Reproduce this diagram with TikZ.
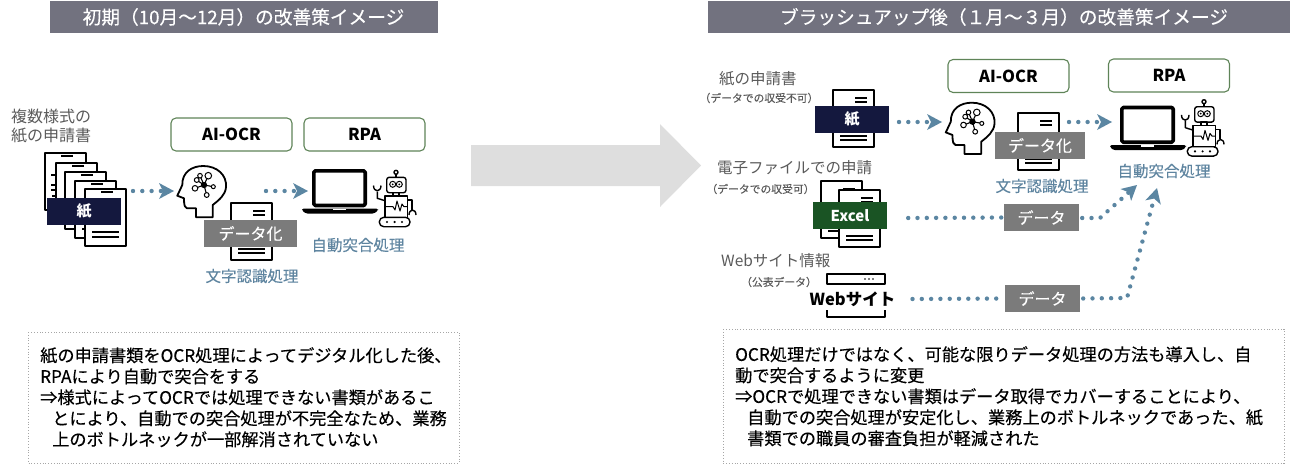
\documentclass[tikz,border=0pt]{standalone}
\usepackage{fontspec}
\setmainfont{Noto Sans CJK JP}
\newfontfamily\jpm[FakeBold=0.25]{Noto Sans CJK JP}
\usetikzlibrary{arrows.meta}
\definecolor{hdr}{HTML}{72727F}
\definecolor{bigarr}{HTML}{DEDEDE}
\definecolor{bluet}{HTML}{5F85A0}
\definecolor{dotc}{HTML}{5B86A2}
\definecolor{greenb}{HTML}{5F8458}
\definecolor{navyb}{HTML}{14183E}
\definecolor{excelg}{HTML}{1A5424}
\definecolor{bandg}{HTML}{7B7B7B}
\definecolor{lab}{HTML}{5A5A5A}
\tikzset{
  header/.style={fill=hdr,draw=none,text=white,font=\jpm\fontsize{18.7}{20}\selectfont,inner sep=0pt,anchor=center},
  toolbox/.style={draw=greenb,line width=1.1pt,rounded corners=5pt,fill=white,minimum width=121pt,minimum height=33pt,inner sep=0pt,font=\bfseries\fontsize{16.5}{18}\selectfont,text=black},
  band/.style={fill=bandg,text=white,inner sep=0pt,minimum width=90pt,minimum height=27pt,font=\jpm\fontsize{16}{18}\selectfont},
  paper/.style={fill=navyb,text=white,inner sep=0pt,minimum width=74pt,minimum height=27pt,font=\bfseries\fontsize{15}{16}\selectfont},
  graylab/.style={text=lab,inner sep=0pt,font=\fontsize{15.5}{20}\selectfont},
  smalllab/.style={text=lab,inner sep=0pt,font=\jpm\fontsize{10.8}{12}\selectfont},
  bluelab/.style={text=bluet,inner sep=0pt,font=\jpm\fontsize{15.5}{18}\selectfont},
  notebox/.style={draw=gray!70,dotted,line width=.8pt,fill=none},
  notetext/.style={text=black,inner sep=0pt,anchor=north west,align=left,font=\jpm\fontsize{17.2}{21}\selectfont},
  dotline/.style={draw=dotc,line width=4.4pt,line cap=round,dash pattern=on 0pt off 9.3pt},
  dothead/.style={-{Stealth[length=15pt,width=16pt,inset=4pt,fill=dotc,line width=0pt]}},
  ink/.style={draw=black,line width=1.6pt,line join=round},
  docicon/.pic={
    \draw[ink,fill=white] (0,0) rectangle (41,57);
    \draw[draw=black,line width=1.3pt] (22,8) -- (34,8) (22,12) -- (34,12) (7,46) -- (34,46) (7,50) -- (34,50);
  },
  stackdoc/.pic={
    \draw[ink,fill=white] (0,0) rectangle (41,57);
    \draw[draw=black,line width=1.3pt] (16,3) -- (28,3) (7,43) -- (34,43) (7,48) -- (34,48);
  },
  headicon/.pic={
    \draw[ink,line width=1.8pt,fill=white] (5.3,23) .. controls (5,10) and (15,4) .. (26.3,4) .. controls (40,4) and (50,13) .. (49,25) .. controls (48.5,33) and (42,38) .. (35.7,43) -- (35.7,55.3) -- (19,55.3) -- (19,46.3) -- (10,46.3) .. controls (8,46) and (7,44) .. (7,36.3) -- (0.3,33.7) -- cycle;
    \draw[draw=black,line width=1.1pt] (27,23) -- (31.3,13.7) (27,23) -- (19.7,18) (27,23) -- (18,26.3) (27,23) -- (29.7,33) (27,23) -- (36.3,24.7) (27,23) -- (23,13.7);
    \fill[black] (27,23) circle (3.2pt);
    \draw[draw=black,line width=1pt,fill=white] (31.3,13.7) circle (3.3pt) (19.7,18) circle (2.4pt) (18,26.3) circle (2.8pt) (29.7,33) circle (2.4pt) (36.3,24.7) circle (2pt) (23,13.7) circle (2.3pt);
  },
  laptopicon/.pic={
    \draw[ink,line width=3.6pt,rounded corners=1.5pt,fill=white] (11.8,1.8) rectangle (63.2,36.5);
    \fill[black,rounded corners=1.5pt] (0,39.5) -- (76,39.5) -- (76,41.5) -- (72,44.5) -- (4,44.5) -- (0,41.5) -- cycle;
    \fill[white] (31,39.5) rectangle (44,41);
  },
  roboticon/.pic={
    \draw[ink,line width=1.4pt,fill=white] (18,2.3) circle (2pt);
    \draw[ink,line width=1.4pt] (18,4.3) -- (18,7.3);
    \draw[ink,line width=1.4pt,fill=white,rounded corners=2.5pt] (8.7,7.3) rectangle (28,22.7);
    \draw[ink,line width=1pt] (14.7,14.3) circle (3pt) (21.3,14.3) circle (3pt);
    \fill[black] (14.7,14.3) circle (1pt) (21.3,14.3) circle (1pt);
    \draw[ink,line width=1.4pt] (15,22.7) rectangle (21,26);
    \draw[ink,line width=1.4pt] (7,26) rectangle (29.3,47.3);
    \draw[ink,line width=1pt] (7,36.7) -- (15,36.7) -- (17,40) -- (19,31) -- (22,41) -- (24,34) -- (26,36.7) -- (29.3,36.7);
    \draw[ink,line width=1.4pt,fill=white,rounded corners=4.5pt] (1.3,47.3) rectangle (32,56.7);
    \fill[black] (9,52) circle (1.2pt) (16.6,52) circle (1.2pt) (24,52) circle (1.2pt);
    \draw[ink,line width=1.4pt] (7,30.7) -- (-0.7,28.3) -- (-0.7,21.7);
    \draw[ink,line width=1.4pt] (-4.5,15.5) .. controls (-4.5,22.5) and (3,22.5) .. (3,15.5);
    \draw[ink,line width=1.4pt] (29.3,30) -- (34,30) -- (34,40);
    \draw[ink,line width=1.4pt] (31,45) .. controls (31,38.5) and (38,38.5) .. (38,45);
  },
  webicon/.pic={
    \draw[ink,line width=1.2pt] (0,0) rectangle (58,10);
    \fill[black] (38,5) circle (.9pt) (42,5) circle (.9pt) (46,5) circle (.9pt);
    \draw[ink,line width=1.2pt] (0,36) -- (0,43) -- (58,43) -- (58,36);
  }
}
\begin{document}
\begin{tikzpicture}[x=1pt,y=-1pt]
\useasboundingbox (0,0) rectangle (1299,464);
% headers
\node[header,minimum width=388pt,minimum height=32pt] (hl) at (243.5,17) {初期（10月～12月）の改善策イメージ};
\node[header,minimum width=582pt,minimum height=32pt] (hr) at (999,17) {\hspace*{10pt}ブラッシュアップ後（１月～３月）の改善策イメージ};
% big arrow
\fill[bigarr] (471,145) -- (660,145) -- (660,124) -- (701,165.5) -- (660,207) -- (660,186) -- (471,186) -- cycle;
% --- left panel
\node[graylab,anchor=west,font=\fontsize{16}{20}\selectfont] (ll1) at (11,116) {複数様式の};
\node[graylab,anchor=west,font=\fontsize{16}{20}\selectfont] (ll2) at (11,136) {紙の申請書};
\pic at (45,153) {stackdoc};
\pic at (56,163) {stackdoc};
\pic at (65,172) {stackdoc};
\pic at (75,181) {stackdoc};
\pic at (85,189) {stackdoc};
\draw[draw=black,line width=1.2pt] (51,175) -- (56,175) (51,185) -- (56,185) (51,190) -- (56,190);
\node[paper] (pl) at (84,211) {紙};
\coordinate (ls1) at (133,191);
\coordinate (le1) at (174,191);
\draw[dotline,dothead] (ls1) -- (le1);
\node[toolbox] (aol) at (231.5,134.5) {AI-OCR};
\node[toolbox] (rpl) at (364.5,134.5) {RPA};
\pic at (177,162) {headicon};
\pic at (231,203) {docicon};
\node[band,minimum width=93pt] (dl) at (250.5,233.5) {データ化};
\node[bluelab] (bl1) at (252,276) {文字認識処理};
\coordinate (ls2) at (266,191);
\coordinate (le2) at (308,191);
\draw[dotline,dothead] (ls2) -- (le2);
\pic at (302,169) {laptopicon};
\pic at (378,170) {roboticon};
\node[bluelab] (bl2) at (358,245) {自動突合処理};
\draw[notebox] (28,332) rectangle (459,463);
\node[notetext] (nl) at (40,347) {紙の申請書類をOCR処理によってデジタル化した後、\\RPAにより自動で突合をする\\⇒様式によってOCRでは処理できない書類があるこ\\\hspace*{12pt}とにより、自動での突合処理が不完全なため、業務\\\hspace*{12pt}上のボトルネックが一部解消されていない};
% --- right panel
\node[graylab,anchor=west] (rl1) at (719,79) {紙の申請書};
\node[smalllab] (rs1) at (759,98) {（データでの収受不可）};
\pic at (833,90) {docicon};
\node[paper] (pr) at (852,119.5) {紙};
\coordinate (rs) at (899,122);
\coordinate (re) at (942,122);
\draw[dotline,dothead] (rs) -- (re);
\node[toolbox] (aor) at (1008.5,76) {AI-OCR};
\node[toolbox] (rpr) at (1169,75.5) {RPA};
\pic at (945.5,98.7) {headicon};
\pic at (1018,113) {docicon};
\node[band] (dr) at (1040,145.5) {データ化};
\node[bluelab] (brl) at (1042,186) {文字認識処理};
\coordinate (rs2) at (1069,122);
\coordinate (re2) at (1112,122);
\draw[dotline,dothead] (rs2) -- (re2);
\pic at (1110,105.7) {laptopicon};
\pic at (1186,99.4) {roboticon};
\node[bluelab] (brr) at (1164,171) {自動突合処理};
\node[graylab,anchor=west] (rl2) at (717,168) {電子ファイルでの申請};
\node[smalllab] (rs2l) at (760.5,189) {（データでの収受可）};
\pic at (821,181) {docicon};
\pic at (839,190) {docicon};
\node[paper,fill=excelg] (ex) at (850,215.5) {Excel};
\node[graylab,anchor=west] (rl3) at (721,261) {Webサイト情報};
\node[smalllab] (rs3) at (779,282) {（公表データ）};
\pic at (827,274) {webicon};
\node[inner sep=0pt,font=\bfseries\fontsize{16.5}{20}\selectfont] (web) at (852.5,299) {Webサイト};
\node[band,minimum width=75pt] (d1) at (1041.5,217.5) {データ};
\node[band,minimum width=75pt] (d2) at (1042.5,298.5) {データ};
\coordinate (ek) at (1100,218);
\coordinate (et) at (1137,185);
\coordinate (wk) at (1127,298);
\coordinate (wt) at (1157,188);
\draw[dotline] (ex.east) ++(21,2.5) coordinate (exs) -- (d1.west);
\draw[dotline,dothead] (d1.east) ++(3,.5) -- (ek) -- (et);
\draw[dotline] (web.east) ++(17,0) -- (d2.west);
\draw[dotline,dothead] (d2.east) ++(3,0) -- (wk) -- (wt);
\draw[notebox] (723,329) rectangle (1284,463);
\node[notetext] (nr) at (735,346) {OCR処理だけではなく、可能な限りデータ処理の方法も導入し、自\\動で突合するように変更\\⇒OCRで処理できない書類はデータ取得でカバーすることにより、\\\hspace*{12pt}自動での突合処理が安定化し、業務上のボトルネックであった、紙\\\hspace*{12pt}書類での職員の審査負担が軽減された};
\end{tikzpicture}
\end{document}
